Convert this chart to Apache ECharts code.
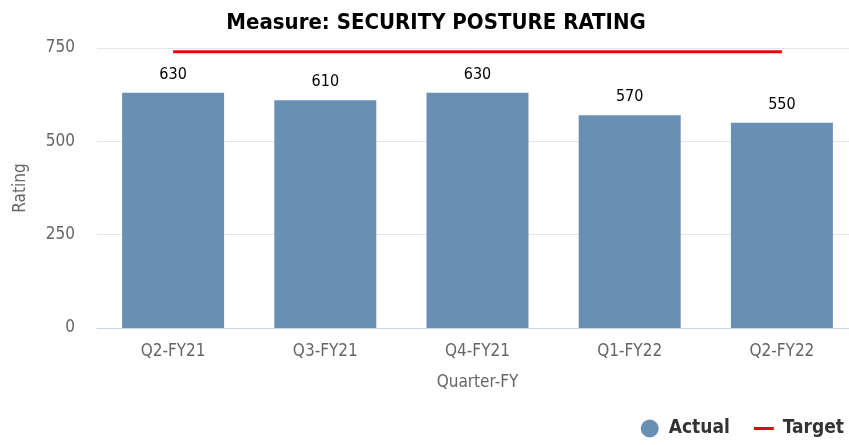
<!DOCTYPE html>
<html>
<head>
<meta charset="utf-8">
<script src="https://cdn.jsdelivr.net/npm/echarts@6/dist/echarts.min.js"></script>
<style>
  html, body { margin: 0; padding: 0; background: #fff; }
  #chart { width: 849px; height: 445px; }
</style>
</head>
<body>
<div id="chart"></div>
<script>
// Quarterly security posture ratings against the target
const quarters = ['Q2-FY21', 'Q3-FY21', 'Q4-FY21', 'Q1-FY22', 'Q2-FY22'];
const actual = [630, 610, 630, 570, 550];
const target = [740, 740, 740, 740, 740];
const yTicks = [0, 250, 500, 750];

const narrow = "'Liberation Sans Narrow', 'DejaVu Sans Condensed', 'Noto Sans', sans-serif";

const chart = echarts.init(document.getElementById('chart'), null, { renderer: 'canvas' });
chart.setOption({
  animation: false,
  title: {
    text: 'Measure: SECURITY POSTURE RATING',
    left: 431, top: 7, textAlign: 'center',
    textStyle: { fontFamily: narrow, fontWeight: 'bold', fontSize: 22, color: '#000' }
  },
  legend: {
    right: 0, bottom: 2,
    itemGap: 24,
    symbolKeepAspect: true,
    textStyle: { fontFamily: narrow, fontWeight: 'bold', fontSize: 19, color: '#333', padding: [0, 0, 0, 4] },
    data: [
      { name: 'Actual', icon: 'circle', itemStyle: { color: '#6a8fb4' } },
      { name: 'Target', icon: 'path://M0,0 L20,0 L20,3 L0,3 Z', itemStyle: { color: '#e30a0a' } }
    ],
    itemWidth: 20, itemHeight: 18
  },
  // the plot runs slightly past the right edge of the canvas
  grid: { left: 97, width: 761, top: 48, bottom: 117, outerBoundsMode: 'none' },
  xAxis: {
    type: 'category',
    data: quarters,
    name: 'Quarter-FY',
    nameLocation: 'middle',
    nameGap: 46,
    nameTextStyle: { fontFamily: narrow, fontSize: 17, color: '#666' },
    axisLine: { lineStyle: { color: '#ccd6eb', width: 1 } },
    axisTick: { show: false },
    axisLabel: { fontFamily: narrow, fontSize: 17, color: '#666', margin: 15 }
  },
  yAxis: {
    type: 'value',
    min: yTicks[0], max: yTicks[yTicks.length - 1], interval: 250,
    name: 'Rating',
    nameLocation: 'middle',
    nameGap: 68,
    nameTextStyle: { fontFamily: narrow, fontSize: 17, color: '#666' },
    axisLine: { show: false },
    axisTick: { show: false },
    axisLabel: { fontFamily: narrow, fontSize: 17, color: '#666', margin: 22 },
    splitLine: { lineStyle: { color: '#e6e6e6', width: 1 } }
  },
  series: [
    {
      name: 'Actual',
      type: 'bar',
      data: actual,
      barWidth: '67%',
      itemStyle: { color: '#6a8fb4' },
      label: {
        show: true, position: 'top', distance: 10,
        fontFamily: narrow, fontSize: 16, color: '#000'
      }
    },
    {
      name: 'Target',
      type: 'line',
      data: target,
      symbol: 'none',
      lineStyle: { color: '#e30a0a', width: 3 },
      itemStyle: { color: '#e30a0a' }
    }
  ]
});
</script>
</body>
</html>
